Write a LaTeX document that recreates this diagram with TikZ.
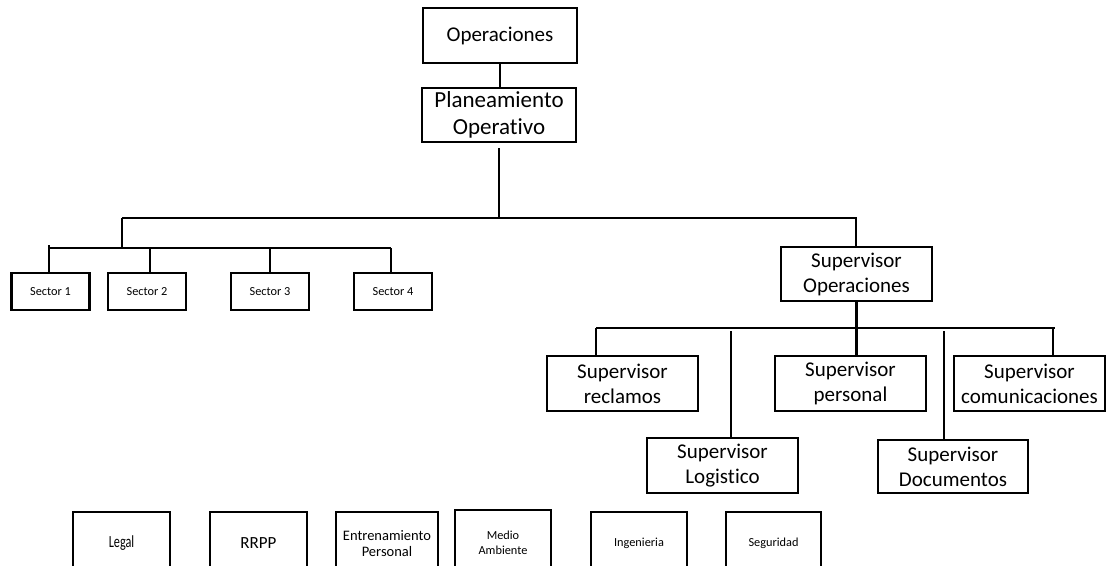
\documentclass[tikz,border=0pt]{standalone}
\usepackage{fontspec}
\usepackage{graphicx}
\setmainfont{Carlito}[Ligatures=NoCommon]
\tikzset{
  box/.style={draw, line width=2.4pt, inner sep=0pt, outer sep=0pt, align=center,
    font=\fontsize{21}{25}\selectfont},
  sbox/.style={box, minimum width=78pt, minimum height=37pt, font=\fontsize{12.3}{15}\selectfont},
  bbox/.style={box, minimum width=97pt, minimum height=63pt},
  link/.style={line width=2.2pt},
}
\begin{document}
\begin{tikzpicture}[x=1pt,y=-1pt]
\useasboundingbox (0,0) rectangle (1107,565);
% top
\node[box, minimum width=154pt, minimum height=55pt] (ops) at (500,35.5) {Operaciones};
\node[box, minimum width=154pt, minimum height=54pt, font=\fontsize{23}{27}\selectfont] (plan) at (499,115) {Planeamiento\\Operativo};
% sectors
\node[sbox] (s1) at (50.5,291.5) {Sector 1};
\node[sbox] (s2) at (147,291.5) {Sector 2};
\node[sbox] (s3) at (270,291.5) {Sector 3};
\node[sbox] (s4) at (393,291.5) {Sector 4};
% supervisors
\node[box, minimum width=151pt, minimum height=54pt] (supops) at (856.5,274) {Supervisor\\Operaciones};
\node[box, minimum width=151pt, minimum height=55pt] (recl) at (622.5,383.5) {Supervisor\\reclamos};
\node[box, minimum width=151pt, minimum height=55pt] (pers) at (850.5,383.5) {Supervisor\\personal};
\node[box, minimum width=151pt, minimum height=55pt] (comu) at (1029.5,383.5) {Supervisor\\comunicaciones};
\node[box, minimum width=151pt, minimum height=55pt] (logi) at (722.5,465.5) {Supervisor\\Logistico};
\node[box, minimum width=150pt, minimum height=53pt] (docu) at (953,466.5) {Supervisor\\Documentos};
% bottom row
\node[bbox, font=\fontsize{17}{20}\selectfont] (legal) at (121.5,543.5) {\scalebox{0.72}[1]{Legal}};
\node[bbox, font=\fontsize{17}{20}\selectfont] (rrpp) at (258.5,543.5) {RRPP};
\node[bbox, minimum width=102pt, font=\fontsize{14.5}{16.5}\selectfont] (entr) at (387,543.5) {Entrenamiento\\Personal};
\node[bbox, minimum width=96pt, minimum height=66pt, font=\fontsize{12.3}{15}\selectfont] (medio) at (503,543) {Medio\\Ambiente};
\node[bbox, minimum width=96pt, font=\fontsize{12.3}{15}\selectfont] (ing) at (639,543.5) {Ingenieria};
\node[bbox, minimum width=95pt, font=\fontsize{12.3}{15}\selectfont] (seg) at (773.5,543.5) {Seguridad};
% junction coordinates
\coordinate (tbL) at (122,218);
\coordinate (tbR) at (856,218);
\coordinate (sbL) at (49,248);
\coordinate (sbR) at (391,248);
\coordinate (ubL) at (596,328);
\coordinate (ubR) at (1055,328);
% connectors
\draw[link] (ops) -- (ops.south |- plan.north);
\draw[link, shorten <=6pt] (plan.south) -- (plan.south |- tbL);
\draw[link] (tbL) -- (tbR) -- (supops.north -| tbR);
\draw[link] (tbL) -- (tbL |- sbL);
\draw[link] (sbL) -- (sbR);
\draw[link] ([yshift=3pt]sbL) -- (sbL |- s1.north);
\draw[link] (150,248) -- (150,0 |- s2.north);
\draw[link] (270,248) -- (270,0 |- s3.north);
\draw[link] (sbR) -- (sbR |- s4.north);
\draw[link] (supops.south) -- (supops.south |- pers.north);
\draw[link] (ubL) -- (ubR);
\draw[link] (ubL) -- (ubL |- recl.north);
\draw[link] (731,331) -- (731,0 |- logi.north);
\draw[link] (944,331) -- (944,0 |- docu.north);
\draw[link] (1053,328) -- (1053,0 |- comu.north);
\end{tikzpicture}
\end{document}
